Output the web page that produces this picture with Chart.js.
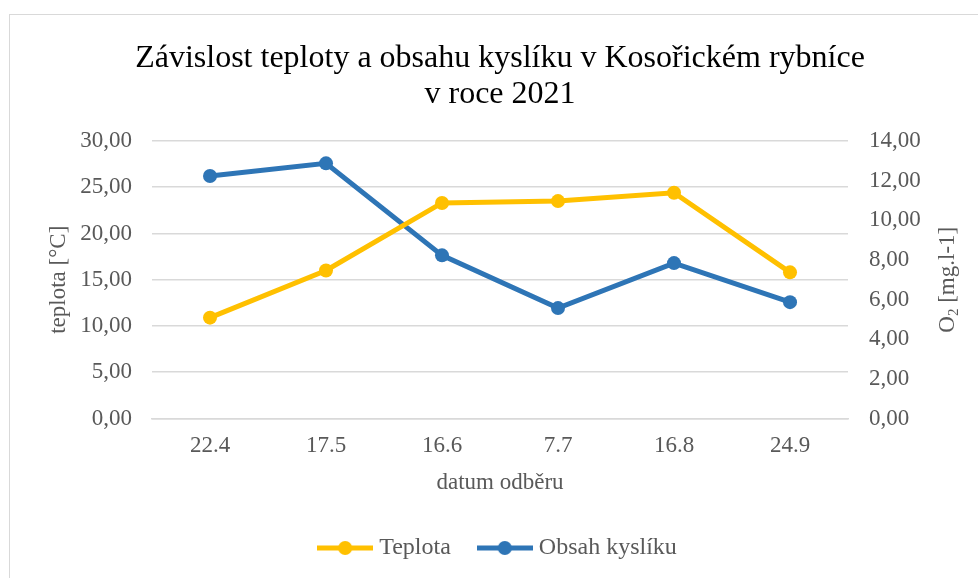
<!DOCTYPE html>
<html>
<head>
<meta charset="utf-8">
<script src="https://cdn.jsdelivr.net/npm/chart.js@4"></script>
<style>
  html, body { margin: 0; padding: 0; background: #fff; overflow: hidden; }
  #chart { display: block; }
</style>
</head>
<body>
<canvas id="chart" width="978" height="578"></canvas>
<script>
var dates = ['22.4', '17.5', '16.6', '7.7', '16.8', '24.9'];
var teplota = [10.9, 16.0, 23.3, 23.5, 24.4, 15.8];
var kyslik = [12.23, 12.87, 8.23, 5.57, 7.84, 5.87];
var titleLines = ['Závislost teploty a obsahu kyslíku v Kosořickém rybníce', 'v roce 2021'];

var serif = "'Liberation Serif', 'Times New Roman', serif";
var grey = '#595959';
var yellow = '#FFC000';
var blue = '#2E75B6';

// legend marker: line with a dot in the middle
var makeMarker = (color) => {
    var c = document.createElement('canvas');
    c.width = 56;
    c.height = 16;
    var g = c.getContext('2d');
    g.strokeStyle = color;
    g.lineWidth = 5;
    g.beginPath();
    g.moveTo(0, 8);
    g.lineTo(56, 8);
    g.stroke();
    g.fillStyle = color;
    g.beginPath();
    g.arc(28, 8, 7, 0, Math.PI * 2);
    g.fill();
    return c;
}
var markers = [makeMarker(yellow), makeMarker(blue)];

// outer frame + right axis title (reads bottom to top like the left one)
var extras = {
    id: 'extras',
    beforeDraw: (chart) => {
        var ctx = chart.ctx;
        ctx.save();
        ctx.strokeStyle = '#d9d9d9';
        ctx.lineWidth = 1;
        ctx.strokeRect(9.5, 14.5, 2000, 2000);
        ctx.restore();
    },
    afterDraw: (chart) => {
        var ctx = chart.ctx;
        var area = chart.chartArea;
        ctx.save();
        ctx.translate(948, (area.top + area.bottom) / 2);
        ctx.rotate(-Math.PI / 2);
        ctx.fillStyle = grey;
        ctx.textBaseline = 'middle';
        ctx.font = '23px ' + serif;
        var w1 = ctx.measureText('O').width;
        ctx.font = '15px ' + serif;
        var w2 = ctx.measureText('2').width;
        ctx.font = '23px ' + serif;
        var w3 = ctx.measureText(' [mg.l-1]').width;
        var x = -(w1 + w2 + w3) / 2;
        ctx.textAlign = 'left';
        ctx.fillText('O', x, 0);
        ctx.font = '15px ' + serif;
        ctx.fillText('2', x + w1, 6);
        ctx.font = '23px ' + serif;
        ctx.fillText(' [mg.l-1]', x + w1 + w2, 0);
        ctx.restore();
    }
};

var ctx = document.getElementById('chart').getContext('2d');
var chart = new Chart(ctx, {
    type: 'line',
    data: {
        labels: dates,
        datasets: [{
            label: 'Teplota',
            data: teplota,
            yAxisID: 'y',
            borderColor: yellow,
            backgroundColor: yellow,
            borderWidth: 5,
            pointRadius: 7,
            pointHoverRadius: 7,
            pointBorderWidth: 0,
            tension: 0
        }, {
            label: 'Obsah kyslíku',
            data: kyslik,
            yAxisID: 'y1',
            borderColor: blue,
            backgroundColor: blue,
            borderWidth: 5,
            pointRadius: 7,
            pointHoverRadius: 7,
            pointBorderWidth: 0,
            tension: 0
        }]
    },
    options: {
        responsive: false,
        animation: false,
        layout: { padding: { top: 0, left: 22, right: 0, bottom: 8 } },
        plugins: {
            title: {
                display: true,
                text: titleLines,
                color: '#000',
                font: { family: serif, size: 32, weight: 'normal', lineHeight: 1.14 },
                padding: { top: 40, bottom: 28 }
            },
            legend: {
                position: 'bottom',
                labels: {
                    usePointStyle: true,
                    pointStyleWidth: 44,
                    padding: 32,
                    color: grey,
                    font: { family: serif, size: 24 },
                    generateLabels: (c) => {
                        var items = Chart.defaults.plugins.legend.labels.generateLabels(c);
                        items.forEach((it, i) => { it.pointStyle = markers[i]; });
                        return items;
                    }
                }
            },
            tooltip: { enabled: false }
        },
        scales: {
            x: {
                offset: true,
                grid: { display: false, drawTicks: false, offset: true },
                border: { color: '#d9d9d9', width: 1.5 },
                ticks: { color: grey, padding: 14, font: { family: serif, size: 23 } },
                title: {
                    display: true,
                    text: 'datum odběru',
                    color: grey,
                    font: { family: serif, size: 23 },
                    padding: { top: 0, bottom: 7 }
                },
                afterFit: (s) => { s.height = 85.5; }
            },
            y: {
                position: 'left',
                min: 0,
                max: 30,
                ticks: {
                    stepSize: 5,
                    color: grey,
                    padding: 20,
                    font: { family: serif, size: 23 },
                    callback: (v) => v.toFixed(2).replace('.', ',')
                },
                grid: { color: '#d9d9d9', lineWidth: 1.5, drawTicks: false },
                border: { display: false },
                title: {
                    display: true,
                    text: 'teplota [°C]',
                    color: grey,
                    font: { family: serif, size: 23 },
                    padding: { top: 23, bottom: 0 }
                },
                afterFit: (s) => { s.width = 130; }
            },
            y1: {
                position: 'right',
                min: 0,
                max: 14,
                ticks: {
                    stepSize: 2,
                    color: grey,
                    padding: 21,
                    font: { family: serif, size: 23 },
                    callback: (v) => v.toFixed(2).replace('.', ',')
                },
                grid: { display: false, drawTicks: false },
                border: { display: false },
                afterFit: (s) => { s.width = 130; }
            }
        }
    },
    plugins: [extras]
});
</script>
</body>
</html>
